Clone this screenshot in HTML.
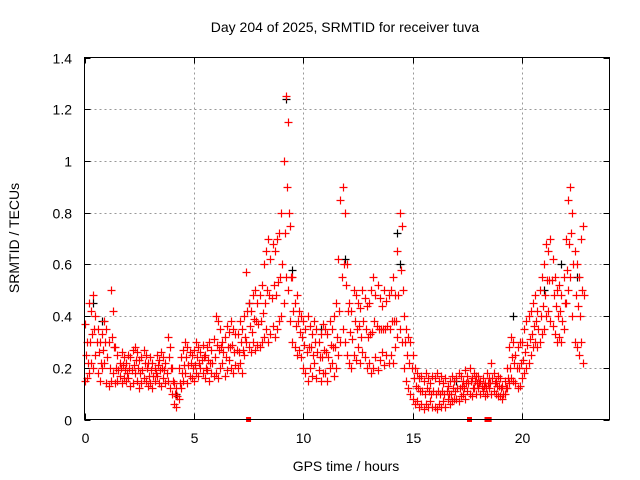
<!DOCTYPE html>
<html><head><meta charset="utf-8"><style>
html,body{margin:0;padding:0;background:#fff;}
svg{display:block;font-family:"Liberation Sans",sans-serif;}
</style></head><body>
<svg id="chart" width="640" height="480" viewBox="0 0 640 480">
<text x="345" y="32" font-size="14" text-anchor="middle">Day 204 of 2025, SRMTID for receiver tuva</text>
<text x="346" y="471" font-size="14" text-anchor="middle">GPS time / hours</text>
<text transform="translate(19,238) rotate(-90)" font-size="14" text-anchor="middle">SRMTID / TECUs</text>
<g id="grid"></g>
<g id="ticks"></g>
<g id="marks"></g>
<rect x="84.5" y="57.5" width="525" height="362" fill="none" stroke="#000" stroke-width="1"/>
</svg>
<script>
const xTicks = [0,5,10,15,20];
const yTicks = [0,0.2,0.4,0.6,0.8,1,1.2,1.4];
const yTickLabels = ["0","0.2","0.4","0.6","0.8","1","1.2","1.4"];
const startHour = 0;
const stepHour = 0.1;
const srmtidHigh = [
.37,.30,.45,.42,.48,.40,.35,.30,.33,.38,
.35,.30,.50,.42,.28,.25,.22,.26,.24,.22,
.25,.24,.27,.28,.26,.23,.24,.27,.25,.22,
.24,.22,.20,.25,.23,.26,.24,.22,.32,.28,
.20,.14,.12,.20,.24,.27,.30,.28,.26,.25,
.27,.30,.28,.26,.29,.25,.28,.30,.27,.31,
.40,.38,.35,.30,.32,.36,.34,.38,.35,.33,
.33,.38,.35,.40,.57,.45,.42,.48,.50,.45,
.48,.52,.60,.65,.70,.62,.68,.65,.70,.72,
.80,1.0,1.25,1.15,.75,.55,.45,.48,.42,.40,
.38,.35,.40,.36,.33,.38,.35,.30,.33,.37,
.35,.33,.38,.35,.40,.45,.62,.85,.90,.80,
.60,.45,.42,.50,.48,.45,.43,.50,.47,.44,
.45,.50,.55,.48,.52,.47,.44,.50,.46,.48,
.50,.55,.48,.65,.80,.75,.40,.35,.32,.30,
.25,.20,.18,.16,.17,.15,.18,.16,.14,.17,
.16,.18,.15,.17,.14,.16,.13,.15,.17,.15,
.16,.18,.17,.15,.19,.17,.20,.16,.18,.17,
.17,.15,.16,.14,.18,.16,.22,.18,.15,.17,
.16,.13,.15,.20,.28,.32,.30,.25,.28,.30,
.30,.35,.38,.40,.42,.45,.48,.42,.50,.55,
.60,.68,.65,.70,.62,.55,.50,.52,.48,.55,
.70,.85,.90,.80,.65,.60,.55,.70,.75];
const srmtidMid = [
.25,.22,.30,.33,.35,.30,.26,.22,.27,.30,
.24,.20,.32,.28,.20,.19,.20,.21,.19,.18,
.20,.19,.21,.23,.20,.18,.19,.22,.20,.17,
.19,.17,.18,.21,.19,.20,.19,.18,.24,.20,
.15,.10,.09,.14,.18,.21,.24,.21,.22,.20,
.21,.24,.22,.23,.24,.20,.23,.22,.22,.24,
.29,.27,.28,.26,.24,.28,.28,.29,.26,.27,
.26,.30,.27,.32,.42,.36,.34,.39,.38,.37,
.38,.41,.45,.50,.48,.47,.52,.48,.53,.55,
.60,.72,.90,.80,.55,.42,.36,.38,.34,.32,
.29,.26,.28,.28,.25,.30,.26,.24,.24,.27,
.26,.24,.29,.28,.28,.32,.42,.55,.60,.52,
.42,.34,.31,.38,.35,.36,.32,.38,.35,.32,
.33,.34,.38,.36,.35,.35,.35,.35,.36,.35,
.38,.38,.38,.48,.58,.50,.30,.25,.22,.20,
.16,.13,.12,.11,.11,.10,.12,.11,.10,.11,
.10,.11,.10,.11,.10,.11,.10,.10,.12,.11,
.12,.12,.13,.12,.14,.14,.15,.12,.15,.14,
.14,.13,.13,.12,.14,.14,.16,.14,.13,.13,
.12,.10,.12,.16,.20,.24,.22,.20,.20,.22,
.23,.26,.29,.31,.33,.36,.38,.35,.40,.44,
.48,.54,.54,.54,.48,.44,.40,.42,.38,.45,
.58,.68,.72,.60,.48,.44,.40,.50,.48];
const srmtidLow = [
.15,.16,.18,.22,.20,.25,.18,.15,.20,.22,
.14,.13,.15,.18,.14,.15,.17,.14,.16,.15,
.16,.13,.14,.18,.15,.12,.14,.16,.15,.13,
.14,.12,.15,.17,.14,.13,.16,.14,.15,.12,
.10,.06,.05,.08,.12,.15,.18,.14,.17,.16,
.15,.18,.17,.20,.18,.16,.19,.15,.18,.17,
.18,.16,.20,.22,.17,.19,.23,.20,.18,.21,
.20,.22,.18,.25,.30,.28,.26,.30,.27,.29,
.28,.30,.32,.35,.30,.33,.36,.32,.35,.38,
.40,.45,.55,.50,.38,.30,.28,.25,.27,.24,
.20,.18,.15,.20,.17,.22,.16,.19,.15,.18,
.18,.15,.20,.22,.17,.20,.25,.30,.35,.30,
.25,.22,.20,.25,.23,.28,.22,.26,.24,.20,
.22,.18,.20,.24,.19,.23,.26,.21,.25,.22,
.25,.22,.28,.32,.35,.30,.20,.15,.12,.10,
.08,.06,.07,.05,.06,.04,.06,.05,.07,.05,
.05,.04,.06,.05,.07,.05,.08,.06,.07,.08,
.08,.07,.09,.10,.08,.11,.10,.09,.12,.10,
.12,.10,.11,.09,.10,.12,.10,.11,.10,.09,
.09,.08,.10,.12,.14,.16,.15,.14,.12,.13,
.16,.18,.20,.22,.25,.28,.30,.28,.30,.33,
.35,.40,.42,.38,.36,.33,.30,.32,.30,.35,
.45,.50,.55,.40,.30,.28,.25,.30,.22];
const blackTimes = [0.4,0.8,4.2,7.5,9.2,9.5,10.8,11.9,14.3,14.4,17.0,19.6,21.0,21.8,22.5];
const blackValues = [.45,.38,.10,.45,1.24,.58,.35,.62,.72,.60,.15,.40,.50,.60,.55];
const zeroTimes = [7.5,17.6,18.4,18.5];
const zeroValues = [0,0,0,0];

const X0=84.5, X1=609.5, Y0=419.5, Y1=57.5;
const xs = h => X0 + h/24*(X1-X0);
const ys = v => Y0 - v/1.4*(Y0-Y1);
const NS="http://www.w3.org/2000/svg";
const grid=document.getElementById('grid'), ticks=document.getElementById('ticks'), marks=document.getElementById('marks');
function mk(tag, attrs, parent){const e=document.createElementNS(NS,tag);for(const k in attrs)e.setAttribute(k,attrs[k]);parent.appendChild(e);return e;}

xTicks.forEach(t=>{
  const x=Math.round(xs(t))+0.5;
  if(t>0){const g=mk('line',{x1:x,x2:x,y1:Y1,y2:Y0,stroke:'#999','stroke-dasharray':'2,3'},grid);
  
  }
  mk('line',{x1:x,x2:x,y1:Y0,y2:Y0-6,stroke:'#000'},ticks);
  mk('line',{x1:x,x2:x,y1:Y1,y2:Y1+6,stroke:'#000'},ticks);
  const l=mk('text',{x:x,y:443,'font-size':14,'text-anchor':'middle',fill:'#000'},ticks);
  l.textContent=t;
  
  
});
yTicks.forEach((t,i)=>{
  const y=Math.round(ys(t))+0.5;
  if(t>0 && t<1.4){const g=mk('line',{x1:X0,x2:X1,y1:y,y2:y,stroke:'#999','stroke-dasharray':'2,3'},grid);
  
  }
  mk('line',{x1:X0,x2:X0+6,y1:y,y2:y,stroke:'#000'},ticks);
  mk('line',{x1:X1,x2:X1-6,y1:y,y2:y,stroke:'#000'},ticks);
  const l=mk('text',{x:72,y:y+5,'font-size':14,'text-anchor':'end',fill:'#000'},ticks);
  l.textContent=yTickLabels[i];
  
  
});
function cross(h,v,color,name){
  const x=Math.round(xs(h))+0.5, y=Math.round(ys(v))+0.5;
  const p=mk('path',{d:`M${x-4},${y}H${x+4}M${x},${y-4}V${y+4}`,stroke:color,'stroke-width':1.2,fill:'none'},marks);
  
  
}
blackTimes.forEach((t,i)=>cross(t,blackValues[i],'#000','black-point'));
srmtidHigh.forEach((v,i)=>cross(startHour+i*stepHour,v,'#f00','srmtid-point-high'));
srmtidMid.forEach((v,i)=>cross(startHour+i*stepHour+0.05,v,'#f00','srmtid-point-mid'));
srmtidLow.forEach((v,i)=>cross(startHour+i*stepHour,v,'#f00','srmtid-point-low'));
zeroTimes.forEach((t,i)=>{
  const r=mk('rect',{x:xs(t)-2.5,y:ys(zeroValues[i])-2.5,width:5,height:5,fill:'#f00'},marks);
  
  
});
</script>
</body></html>
